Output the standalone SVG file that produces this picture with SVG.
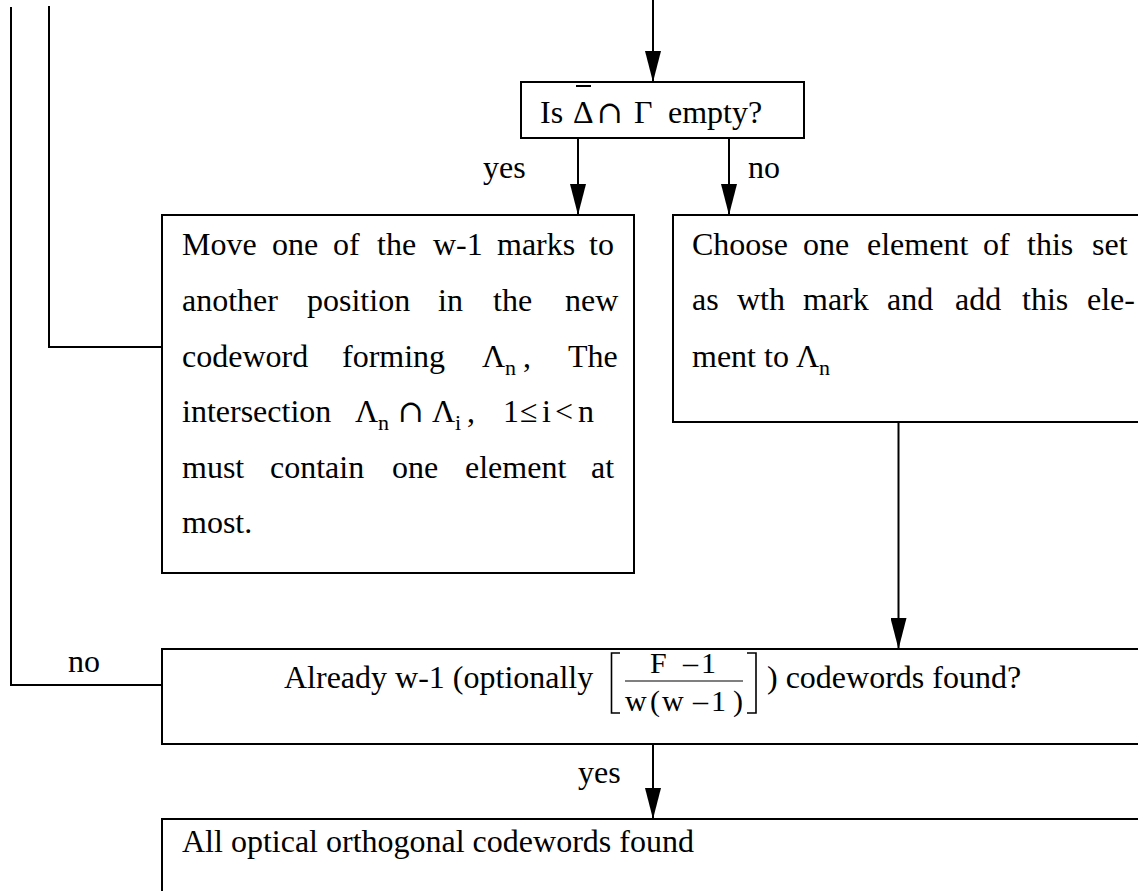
<svg xmlns="http://www.w3.org/2000/svg" width="1138" height="891" viewBox="0 0 1138 891">
<style>
  text { font-family: "Liberation Serif", "Times New Roman", serif; font-size: 32px; fill: #000; }
  .sub { font-size: 22px; }
  .frac { font-size: 30px; }
  .op { font-family: "DejaVu Serif", "Liberation Serif", serif; font-size: 31px; }
  .box { fill: #fff; stroke: #000; stroke-width: 2; }
  .wire { fill: none; stroke: #000; stroke-width: 2; }
  .arrow { fill: none; stroke: #000; stroke-width: 2; marker-end: url(#head); }
  .thin { fill: none; stroke: #000; stroke-width: 1.6; }
</style>
<defs>
  <marker id="head" markerUnits="userSpaceOnUse" markerWidth="31" markerHeight="16" refX="31" refY="8" orient="auto" viewBox="0 0 31 16">
    <path d="M0,0 L31,8 L0,16 Z" fill="#000"/>
  </marker>
</defs>
<rect width="1138" height="891" fill="#fff"/>

<g id="connectors">
  <line class="arrow" x1="653" y1="0" x2="653" y2="82"/>
  <line class="arrow" x1="578" y1="138" x2="578" y2="215"/>
  <line class="arrow" x1="729" y1="138" x2="729" y2="215"/>
  <line class="arrow" x1="898.5" y1="422" x2="898.5" y2="649"/>
  <line class="arrow" x1="653" y1="744" x2="653" y2="819"/>
  <polyline class="wire" points="162,347 49,347 49,6"/>
  <polyline class="wire" points="162,685 11,685 11,7"/>
  <text x="483" y="178">yes</text>
  <text x="748" y="178">no</text>
  <text x="68" y="672">no</text>
  <text x="578" y="783">yes</text>
</g>

<g id="decision">
  <rect class="box" x="521" y="82" width="283" height="56"/>
  <text y="123"><tspan x="540">Is</tspan><tspan x="573">Δ</tspan><tspan class="op" x="597">∩</tspan><tspan x="634">Γ</tspan><tspan x="668">empty?</tspan></text>
  <line x1="576" y1="86" x2="591" y2="86" stroke="#000" stroke-width="2"/>
</g>

<g id="move">
  <rect class="box" x="162" y="215" width="472" height="358"/>
  <text y="255"><tspan x="182">Move</tspan><tspan x="272">one</tspan><tspan x="333">of</tspan><tspan x="377">the</tspan><tspan x="433">w-1</tspan><tspan x="497">marks</tspan><tspan x="589">to</tspan></text>
  <text y="311"><tspan x="182">another</tspan><tspan x="307">position</tspan><tspan x="438">in</tspan><tspan x="493">the</tspan><tspan x="565">new</tspan></text>
  <text y="367"><tspan x="182">codeword</tspan><tspan x="342">forming</tspan><tspan x="482">Λ</tspan><tspan x="523">,</tspan><tspan x="568">The</tspan></text>
  <text class="sub" x="505" y="375">n</text>
  <text y="422"><tspan x="182">intersection</tspan><tspan x="355">Λ</tspan><tspan class="op" x="398">∩</tspan><tspan x="432">Λ</tspan><tspan x="467">,</tspan><tspan x="503">1</tspan><tspan x="520">≤</tspan><tspan x="542">i</tspan><tspan x="555">&lt;</tspan><tspan x="578">n</tspan></text>
  <text class="sub" x="378" y="430">n</text>
  <text class="sub" x="455" y="430">i</text>
  <text y="478"><tspan x="182">must</tspan><tspan x="270">contain</tspan><tspan x="392">one</tspan><tspan x="465">element</tspan><tspan x="591">at</tspan></text>
  <text x="182" y="533">most.</text>
</g>

<g id="choose">
  <rect class="box" x="673" y="215" width="500" height="207"/>
  <text y="255"><tspan x="692">Choose</tspan><tspan x="803">one</tspan><tspan x="867">element</tspan><tspan x="983">of</tspan><tspan x="1027">this</tspan><tspan x="1092">set</tspan></text>
  <text y="310"><tspan x="692">as</tspan><tspan x="737">wth</tspan><tspan x="803">mark</tspan><tspan x="887">and</tspan><tspan x="955">add</tspan><tspan x="1022">this</tspan><tspan x="1087">ele-</tspan></text>
  <text y="367"><tspan x="692">ment</tspan><tspan x="764">to</tspan><tspan x="796">Λ</tspan></text>
  <text class="sub" x="819" y="375">n</text>
</g>

<g id="already">
  <rect class="box" x="162" y="649" width="1011" height="95"/>
  <text x="284" y="688">Already w-1 (optionally</text>
  <polyline class="thin" points="620,653 611.5,653 611.5,713 620,713"/>
  <polyline class="thin" points="747,653 756,653 756,713 747,713"/>
  <text class="frac" y="673"><tspan x="650">F</tspan><tspan x="683">–</tspan><tspan x="701">1</tspan></text>
  <line x1="625" y1="681" x2="743" y2="681" stroke="#000" stroke-width="1.2"/>
  <text class="frac" y="711"><tspan x="625">w</tspan><tspan x="650">(</tspan><tspan x="662">w</tspan><tspan x="693">–</tspan><tspan x="711">1</tspan><tspan x="733">)</tspan></text>
  <text x="767" y="688">) codewords found?</text>
</g>

<g id="done">
  <rect class="box" x="162" y="819" width="1011" height="90"/>
  <text x="182" y="852">All optical orthogonal codewords found</text>
</g>
</svg>
